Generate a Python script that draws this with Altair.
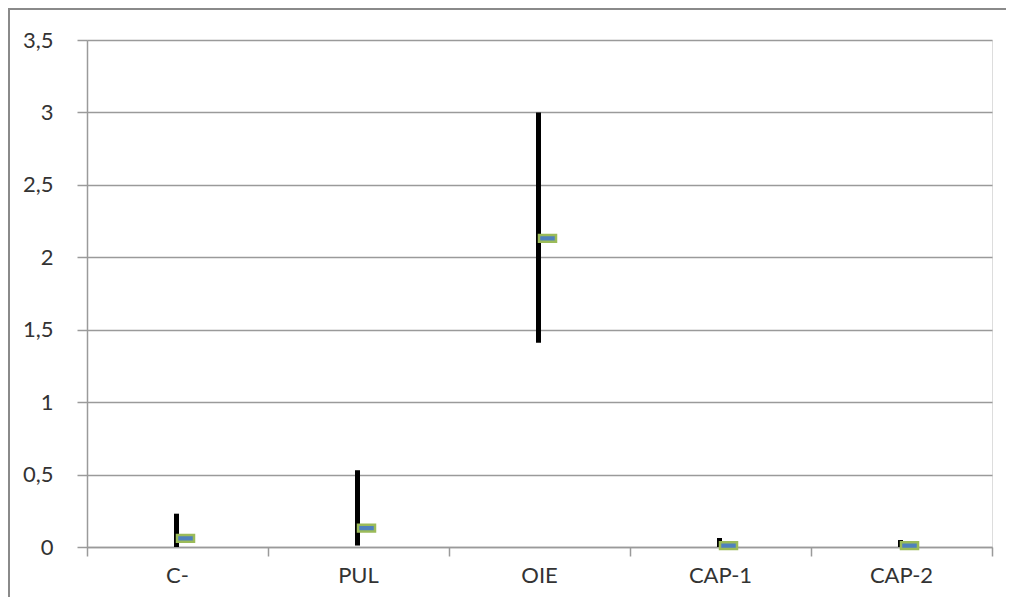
import altair as alt
import pandas as pd

categories = ["C-", "PUL", "OIE", "CAP-1", "CAP-2"]
high_values = [0.23, 0.53, 3.0, 0.062, 0.048]
low_values = [0.0, 0.01, 1.41, 0.0, 0.0]
mean_values = [0.06, 0.13, 2.13, 0.01, 0.01]
y_ticks = [0, 0.5, 1, 1.5, 2, 2.5, 3, 3.5]
boundaries = [0, 1, 2, 3, 4, 5]

W, H = 905, 507
PAD = {"left": 79, "top": 32, "right": 14, "bottom": 50}
FONT = "Lato"
FS = 22
GRID = "#9a9a9a"

df = pd.DataFrame({
    "cat": categories,
    "pos": [i + 0.5 for i in range(len(categories))],
    "high": high_values,
    "low": low_values,
    "mean": mean_values,
})
bdf = pd.DataFrame({"b": [0]})

xscale = alt.Scale(domain=[0, 5], nice=False, zero=False)
yscale = alt.Scale(domain=[0, 3.5], nice=False)

yaxis = alt.Axis(
    values=y_ticks, grid=True, gridColor=GRID, gridWidth=1.5,
    domainColor=GRID, domainWidth=1.5, tickColor=GRID, tickWidth=1.5, tickSize=10,
    labelFont=FONT, labelFontSize=FS, labelColor="#333333", labelPadding=24,
    labelExpr="replace(format(datum.value, '~g'), '.', ',')", title=None,
)
xaxis = alt.Axis(
    values=boundaries, grid=False, labels=False, domainColor=GRID, domainWidth=1.5,
    tickColor=GRID, tickWidth=1.5, tickSize=9, title=None,
)

border_top = alt.Chart(bdf).mark_rect(fill="#8a8a8a", strokeWidth=0, clip=False).encode(
    x=alt.value(-79), x2=alt.value(W + PAD["right"]), y=alt.value(-32), y2=alt.value(-30)
)
border_left = alt.Chart(bdf).mark_rect(fill="#8a8a8a", strokeWidth=0, clip=False).encode(
    x=alt.value(-79), x2=alt.value(-77), y=alt.value(-32), y2=alt.value(H + PAD["bottom"])
)

rules = alt.Chart(df).mark_rule(color="black", strokeWidth=5, xOffset=-1).encode(
    x=alt.X("pos:Q", scale=xscale, axis=xaxis),
    y=alt.Y("low:Q", scale=yscale, axis=yaxis),
    y2="high:Q",
)

markers = alt.Chart(df).mark_point(
    shape="M-1,-0.4L1,-0.4L1,0.4L-1,0.4Z", size=289, filled=True,
    fill="#4f81bd", stroke="#9bbb59", strokeWidth=2.5, opacity=1, xOffset=8,
).encode(
    x=alt.X("pos:Q", scale=xscale),
    y=alt.Y("mean:Q", scale=yscale),
)

labels = alt.Chart(df).mark_text(
    font=FONT, fontSize=FS, color="#333333", baseline="middle", align="center", clip=False
).encode(
    x=alt.X("pos:Q", scale=xscale),
    y=alt.value(H + 29),
    text="cat:N",
)

chart = alt.layer(border_top, border_left, rules, markers, labels).properties(
    width=W, height=H,
    autosize=alt.AutoSizeParams(type="none"),
    padding=PAD,
).configure_view(stroke=None).configure(background="white")

chart.save("out.html", embed_options={"renderer": "svg", "actions": False})
